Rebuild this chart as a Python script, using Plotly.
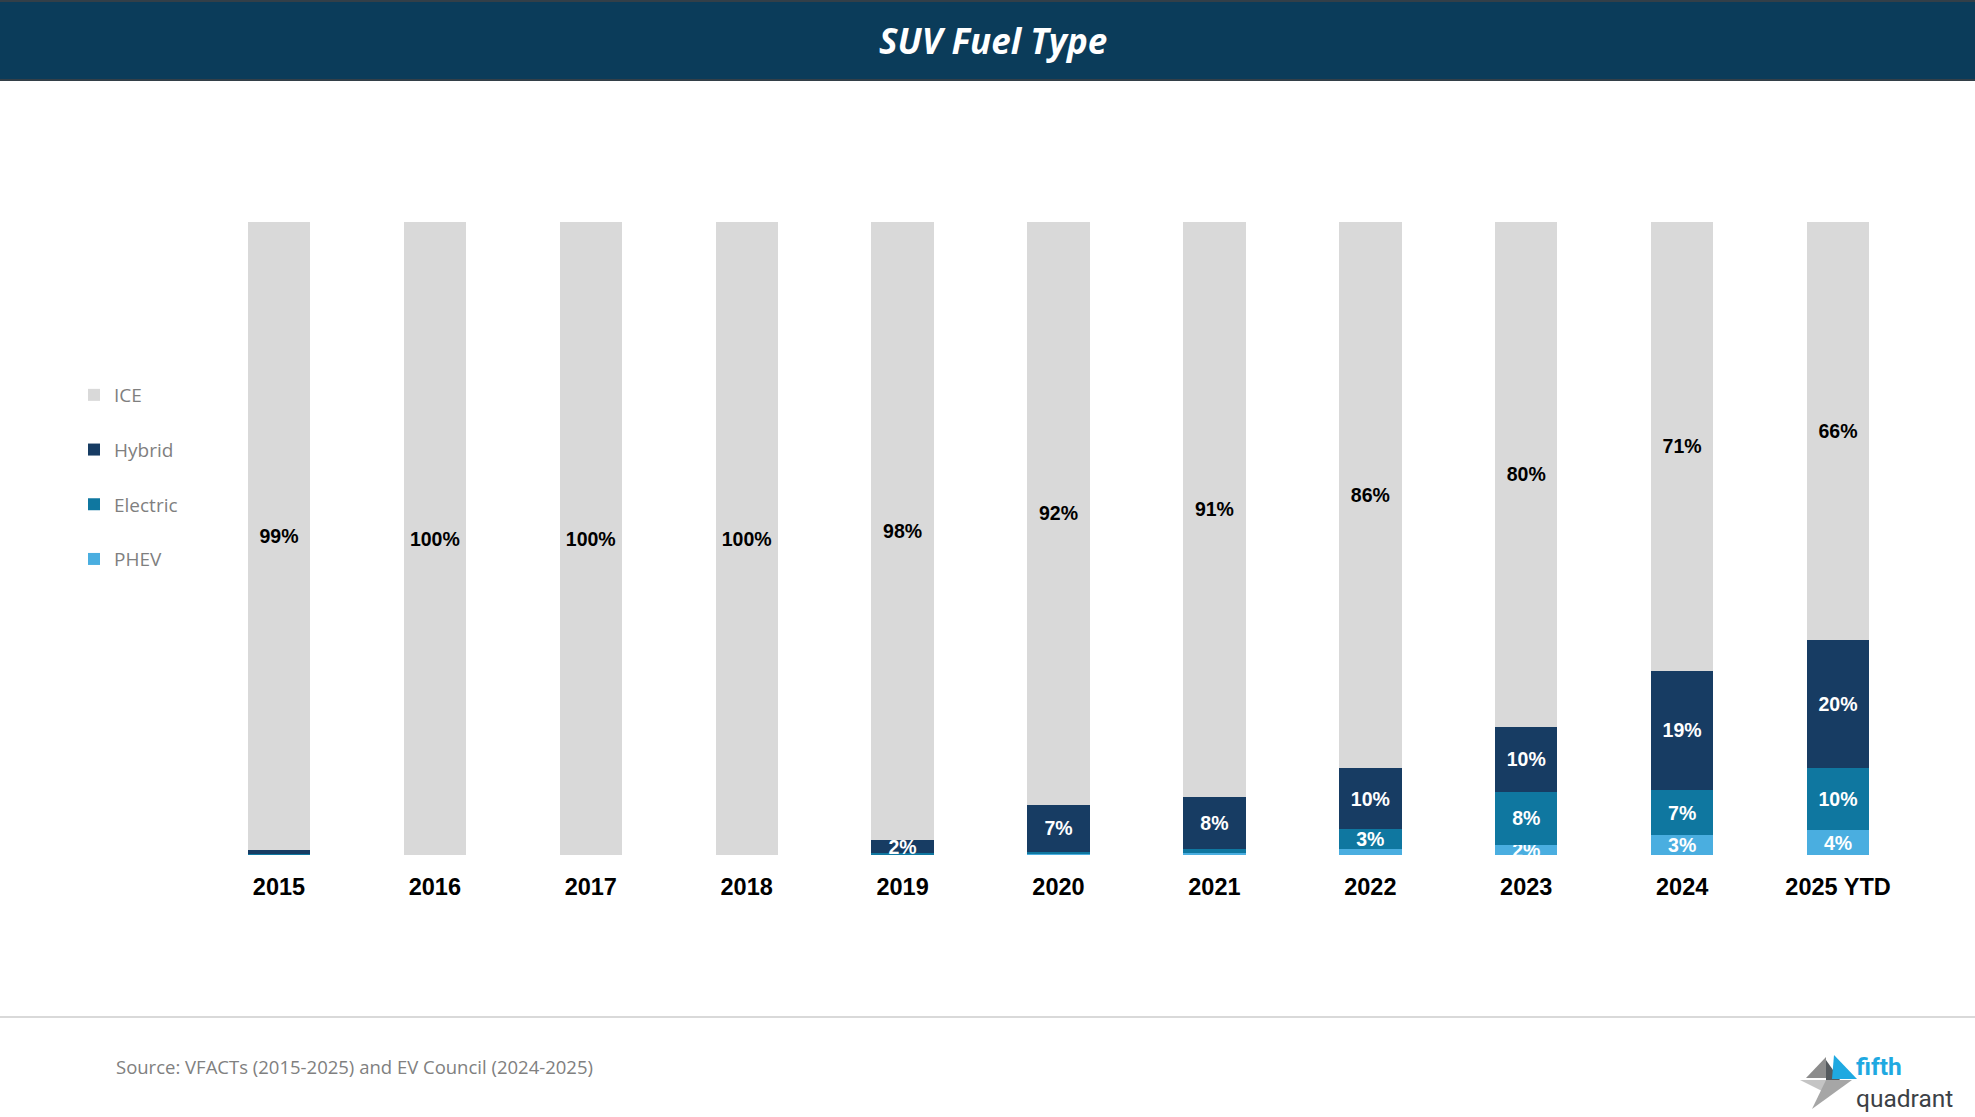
import plotly.graph_objects as go

# ---------------- data ----------------
years = ["2015", "2016", "2017", "2018", "2019", "2020", "2021", "2022", "2023", "2024", "2025 YTD"]
ice = [99.2, 100, 100, 100, 97.7, 92.1, 90.8, 86.3, 79.7, 70.9, 66.0]
hybrid = [0.6, 0, 0, 0, 2.0, 7.4, 8.3, 9.6, 10.3, 18.8, 20.2]
electric = [0.2, 0, 0, 0, 0.3, 0.3, 0.6, 3.2, 8.4, 7.2, 9.9]
phev = [0, 0, 0, 0, 0, 0.2, 0.3, 0.9, 1.6, 3.1, 3.9]

series_names = ["PHEV", "Electric", "Hybrid", "ICE"]
series_values = [phev, electric, hybrid, ice]
series_colors = ["#4aaee0", "#0f77a0", "#173c63", "#d9d9d9"]
label_colors = ["white", "white", "white", "black"]
legend_ranks = [4, 3, 2, 1]

title_text = "SUV Fuel Type"
source_text = "Source: VFACTs (2015-2025) and EV Council (2024-2025)"

# ---------------- layout geometry (pixels) ----------------
W, H = 1975, 1117
PL, PR, PT, PB = 201, 1916, 222, 855


def px(x):
    return (x - PL) / (PR - PL)


def py(y):
    return (PB - y) / (PB - PT)


def lab(v):
    return f"{round(v)}%" if v >= 1.5 else ""


fig = go.Figure()
for name, vals, col, lc, rk in zip(series_names, series_values, series_colors, label_colors, legend_ranks):
    fig.add_trace(go.Bar(
        x=years, y=vals, name=name,
        marker=dict(color=col, line=dict(width=0)),
        text=[lab(v) for v in vals],
        textposition="inside", insidetextanchor="middle",
        textfont=dict(family="Liberation Sans, Arial", size=19.5, color=lc, weight="bold"),
        textangle=0, cliponaxis=False,
        legendrank=rk, legendgroup=name,
        hoverinfo="skip",
    ))

shapes = [
    # title band
    dict(type="rect", xref="paper", yref="paper", x0=px(0), x1=px(W), y0=py(80), y1=py(0),
         fillcolor="#0b3c5a", line=dict(width=0), layer="below"),
    dict(type="line", xref="paper", yref="paper", x0=px(0), x1=px(W), y0=py(1), y1=py(1),
         line=dict(color="#333f48", width=2)),
    dict(type="line", xref="paper", yref="paper", x0=px(0), x1=px(W), y0=py(80), y1=py(80),
         line=dict(color="#333f48", width=2)),
    # footer separator
    dict(type="line", xref="paper", yref="paper", x0=px(0), x1=px(W), y0=py(1017), y1=py(1017),
         line=dict(color="#d9d9d9", width=2)),
]


def poly(points, color):
    path = "M " + " L ".join(f"{px(a)},{py(b)}" for a, b in points) + " Z"
    return dict(type="path", xref="paper", yref="paper", path=path,
                fillcolor=color, line=dict(width=0))


# logo mark (pinwheel of triangles)
shapes += [
    poly([(1806, 1078), (1826, 1057), (1826, 1078)], "#8c8c8c"),
    poly([(1800, 1080), (1826, 1080), (1826, 1093)], "#c4c4c4"),
    poly([(1826, 1080), (1852, 1080), (1812, 1109)], "#a6a6a6"),
    poly([(1826, 1060), (1840, 1080), (1826, 1080)], "#555a5e"),
    poly([(1834, 1055), (1857, 1079), (1832, 1079)], "#1fa9e1"),
]

annotations = [
    dict(text=f"<b><i>{title_text}</i></b>", xref="paper", yref="paper", x=px(W / 2 + 5), y=py(41),
         xanchor="center", yanchor="middle", showarrow=False,
         font=dict(family="Open Sans", size=35, color="white")),
    dict(text=source_text, xref="paper", yref="paper", x=px(114), y=py(1066),
         xanchor="left", yanchor="middle", showarrow=False,
         font=dict(family="Open Sans", size=18.5, color="#808080")),
    dict(text="<span style='color:#1fa9e1'><b>fifth</b></span><br><span style='color:#3c4146'>quadrant</span>",
         xref="paper", yref="paper", x=px(1855), y=py(1082), align="left",
         xanchor="left", yanchor="middle", showarrow=False, borderpad=0,
         font=dict(family="Roboto", size=24.5, color="#3c4146")),
]

fig.update_layout(
    width=W, height=H,
    margin=dict(l=PL, r=W - PR, t=PT, b=H - PB, pad=0),
    barmode="stack", bargap=0.6,
    paper_bgcolor="white", plot_bgcolor="white",
    showlegend=True,
    legend=dict(x=px(74), y=py(376), xanchor="left", yanchor="top",
                orientation="v", traceorder="grouped", tracegroupgap=27,
                font=dict(family="Open Sans", size=19, color="#7f7f7f"),
                itemwidth=30,
                itemclick=False, itemdoubleclick=False, bgcolor="rgba(0,0,0,0)"),
    uniformtext=dict(minsize=19.5, mode="show"),
    xaxis=dict(type="category", showgrid=False, showline=False, zeroline=False,
               ticks="", ticklabelstandoff=15, fixedrange=True,
               tickfont=dict(family="Liberation Sans, Arial", size=23.5, color="black", weight="bold")),
    yaxis=dict(range=[0, 100], visible=False, fixedrange=True),
    shapes=shapes, annotations=annotations,
)

fig.write_html("out.html", config={"displayModeBar": False},
               post_script="document.body.style.margin='0px';document.body.style.padding='0px';")
